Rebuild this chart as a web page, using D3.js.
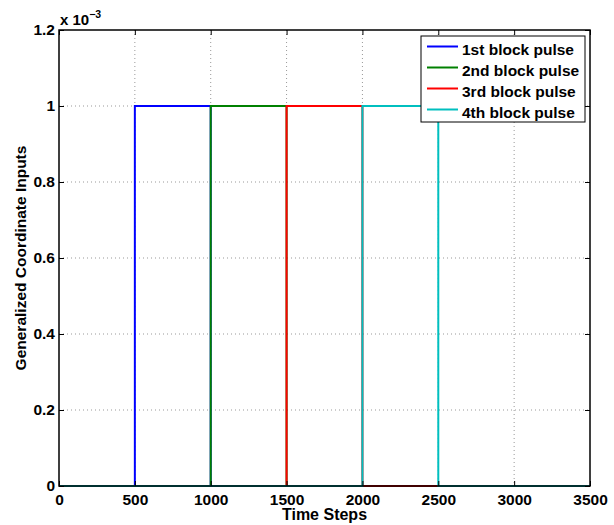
<!DOCTYPE html>
<html><head><meta charset="utf-8">
<script src="https://cdn.jsdelivr.net/npm/d3@7"></script>
<style>body{margin:0;background:#fff}text{font-family:"Liberation Sans",Arial,sans-serif;font-weight:bold}</style>
</head><body><svg id="c" width="614" height="525"></svg>
<script>
const seriesNames = ["1st block pulse","2nd block pulse","3rd block pulse","4th block pulse"];
const seriesColors = ["#0000ff","#008000","#ff0000","#00bfbf"];
// each pulse: [start, end] time step, amplitude
const pulseStarts = [500,1000,1500,2000];
const pulseEnds = [1000,1500,2000,2500];
const amplitude = 1e-3;
const xTicks = [0,500,1000,1500,2000,2500,3000,3500];
const yTicks = [0,0.2e-3,0.4e-3,0.6e-3,0.8e-3,1.0e-3,1.2e-3];
const yTickLabels = ["0","0.2","0.4","0.6","0.8","1","1.2"];

const svg = d3.select("#c");
const L=59,R=590,T=30,B=486;
const x = d3.scaleLinear().domain([0,3500]).range([L,R]);
const y = d3.scaleLinear().domain([0,1.2e-3]).range([B,T]);

// grid
const g = svg.append("g");
xTicks.slice(1,-1).forEach(v=>g.append("line").attr("x1",x(v)).attr("x2",x(v)).attr("y1",T).attr("y2",B)
  .attr("stroke","#999").attr("stroke-width",1).attr("stroke-dasharray","1,3"));
yTicks.slice(1,-1).forEach(v=>g.append("line").attr("y1",y(v)).attr("y2",y(v)).attr("x1",L).attr("x2",R)
  .attr("stroke","#999").attr("stroke-width",1).attr("stroke-dasharray","1,3"));

// lines
pulseStarts.forEach((s,i)=>{
  const pts=[[0,0],[s,0],[s,amplitude],[pulseEnds[i],amplitude],[pulseEnds[i],0],[3500,0]];
  svg.append("path").attr("d",d3.line().x(d=>x(d[0])).y(d=>y(d[1]))(pts))
    .attr("fill","none").attr("stroke",seriesColors[i]).attr("stroke-width",2);
});

// axes box
svg.append("rect").attr("x",L).attr("y",T).attr("width",R-L).attr("height",B-T)
  .attr("fill","none").attr("stroke","#000").attr("stroke-width",1.5);
const xa = svg.append("g").attr("transform",`translate(0,${B})`)
  .call(d3.axisBottom(x).tickValues(xTicks).tickSize(-5).tickPadding(8).tickFormat(d3.format("d")));
const xt = svg.append("g").attr("transform",`translate(0,${T})`)
  .call(d3.axisTop(x).tickValues(xTicks).tickSize(-5).tickFormat(""));
const ya = svg.append("g").attr("transform",`translate(${L},0)`)
  .call(d3.axisLeft(y).tickValues(yTicks).tickSize(-5).tickPadding(4).tickFormat((d,i)=>yTickLabels[i]));
const yr = svg.append("g").attr("transform",`translate(${R},0)`)
  .call(d3.axisRight(y).tickValues(yTicks).tickSize(-5).tickFormat(""));
[xa,xt,ya,yr].forEach(a=>{a.select(".domain").remove();a.selectAll("line").attr("stroke","#000").attr("stroke-width",1);
  a.selectAll("text").attr("font-size",15.5).attr("fill","#000").style("font-family","'Liberation Sans',Arial,sans-serif").style("font-weight","bold");});

// exponent
const ex = svg.append("text").attr("x",60).attr("y",25).attr("font-size",15);
ex.append("tspan").text("x 10");
ex.append("tspan").attr("dy",-7).attr("font-size",10.5).text("−3");

// axis labels
svg.append("text").attr("x",(L+R)/2).attr("y",520).attr("text-anchor","middle").attr("font-size",16).text("Time Steps");
svg.append("text").attr("transform",`translate(26,${(T+B)/2}) rotate(-90)`).attr("text-anchor","middle").attr("font-size",15.5).text("Generalized Coordinate Inputs");

// legend
const lg = svg.append("g");
lg.append("rect").attr("x",421).attr("y",36).attr("width",164).attr("height",86).attr("fill","#fff").attr("stroke","#000").attr("stroke-width",1);
seriesNames.forEach((n,i)=>{
  const yy=46.5+i*21;
  lg.append("line").attr("x1",427).attr("x2",458).attr("y1",yy).attr("y2",yy).attr("stroke",seriesColors[i]).attr("stroke-width",2);
  lg.append("text").attr("x",462).attr("y",yy+8.5).attr("font-size",15.5).text(n);
});
</script></body></html>
